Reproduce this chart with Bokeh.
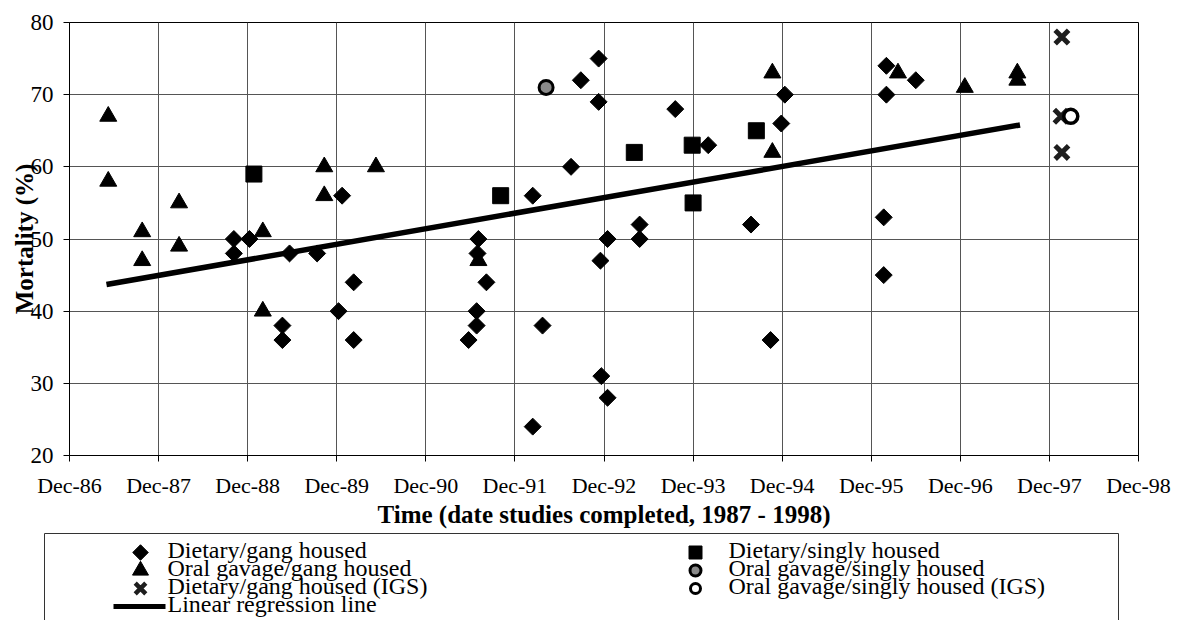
from bokeh.plotting import figure
from bokeh.layouts import column
from bokeh.models import Range1d, FixedTicker
from bokeh.core.properties import value
from bokeh.embed import file_html
from bokeh.resources import INLINE

FONT = "Liberation Serif"

# x values: years after Dec-1986 (date studies completed)
tick_labels = ["Dec-86", "Dec-87", "Dec-88", "Dec-89", "Dec-90", "Dec-91", "Dec-92",
               "Dec-93", "Dec-94", "Dec-95", "Dec-96", "Dec-97", "Dec-98"]
y_ticks = [20, 30, 40, 50, 60, 70, 80]

# Dietary / gang housed (diamonds)
diet_gang_x = [1.845, 1.845, 2.02, 2.39, 2.39, 2.47, 2.78, 3.02, 3.06, 3.19, 3.19,
               4.48, 4.57, 4.57, 4.59, 4.58, 4.68, 5.20, 5.20, 5.31, 5.63, 5.74,
               5.94, 5.94, 5.96, 5.97, 6.04, 6.04, 6.40, 6.40, 6.80, 7.17, 7.65,
               7.87, 7.99, 8.03, 9.14, 9.14, 9.17, 9.17, 9.50]
diet_gang_y = [50, 48, 50, 38, 36, 48, 48, 40, 56, 44, 36,
               36, 40, 38, 50, 48, 44, 56, 24, 38, 60, 72,
               75, 69, 47, 31, 50, 28, 52, 50, 68, 63, 52,
               36, 66, 70, 53, 45, 74, 70, 72]

# Oral gavage / gang housed (triangles)
oral_gang_x = [0.435, 0.435, 0.816, 0.816, 1.23, 1.23, 2.17, 2.17, 2.86, 2.86, 3.44,
               4.59, 7.89, 7.89, 9.30, 10.05, 10.64, 10.64]
oral_gang_y = [67, 58, 51, 47, 55, 49, 51, 40, 60, 56, 60,
               47, 73, 62, 73, 71, 73, 72]

# Dietary / singly housed (squares)
diet_single_x = [2.07, 4.84, 6.34, 6.99, 7.00, 7.71]
diet_single_y = [59, 56, 62, 63, 55, 65]

# Oral gavage / singly housed (grey circles)
oral_single_x = [5.35]
oral_single_y = [71]

# Dietary / gang housed (IGS) (crosses)
diet_gang_igs_x = [11.14, 11.13, 11.14]
diet_gang_igs_y = [78, 67, 62]

# Oral gavage / singly housed (IGS) (open circles)
oral_single_igs_x = [11.24]
oral_single_igs_y = [67]

# Linear regression line end points
reg_x = [0.415, 10.67]
reg_y = [43.7, 65.8]

legend_left = ["Dietary/gang housed", "Oral gavage/gang housed",
               "Dietary/gang housed (IGS)", "Linear regression line"]
legend_right = ["Dietary/singly housed", "Oral gavage/singly housed",
                "Oral gavage/singly housed (IGS)"]

p = figure(width=1184, height=530, x_range=Range1d(0, 12), y_range=Range1d(20, 80),
           output_backend="svg", toolbar_location=None,
           min_border_left=69, min_border_right=46, min_border_top=22, min_border_bottom=71)
p.frame_align = False

p.line(reg_x, reg_y, line_width=5.5, line_color="black")
p.scatter(diet_gang_x, diet_gang_y, marker="square", angle=0.7853982, size=12,
          fill_color="black", line_color="black")
p.scatter(oral_gang_x, oral_gang_y, marker="triangle", size=17,
          fill_color="black", line_color="black")
p.scatter(diet_single_x, diet_single_y, marker="square", size=16,
          fill_color="black", line_color="black")
p.scatter(oral_single_x, oral_single_y, marker="circle", size=14,
          fill_color="#8a8a8a", line_color="black", line_width=3)
p.scatter(diet_gang_igs_x, diet_gang_igs_y, marker="x", size=19,
          line_color="#1e1e1e", line_width=5)
p.scatter(oral_single_igs_x, oral_single_igs_y, marker="circle", size=14,
          fill_color="white", line_color="black", line_width=3.5)

p.xaxis.ticker = FixedTicker(ticks=list(range(len(tick_labels))))
p.xaxis.major_label_overrides = {i: t for i, t in enumerate(tick_labels)}
p.yaxis.ticker = FixedTicker(ticks=y_ticks)
p.xaxis.axis_label = "Time (date studies completed, 1987 - 1998)"
p.yaxis.axis_label = "Mortality (%)"

for ax in (p.xaxis, p.yaxis):
    ax.axis_label_text_font = FONT
    ax.axis_label_text_font_style = "bold"
    ax.axis_label_text_color = "black"
    ax.major_label_text_font = FONT
    ax.major_label_text_font_style = "normal"
    ax.major_label_text_color = "black"
    ax.minor_tick_line_color = None
    ax.major_tick_out = 6
    ax.major_tick_in = 0
    ax.major_tick_line_color = "black"
    ax.axis_line_color = "black"

p.xaxis.axis_label_text_font_size = "25px"
p.yaxis.axis_label_text_font_size = "25px"
p.xaxis.major_label_text_font_size = "22px"
p.yaxis.major_label_text_font_size = "23px"
p.xaxis.major_label_standoff = 11
p.yaxis.major_label_standoff = 10
p.xaxis.axis_label_standoff = 0
p.yaxis.axis_label_standoff = -10

p.grid.grid_line_color = "#555555"
p.grid.grid_line_width = 1
p.outline_line_color = "black"
p.outline_line_alpha = 1

# Legend panel (drawn in page pixel coordinates)
lg = figure(width=1184, height=90, x_range=Range1d(0, 1184), y_range=Range1d(620, 530),
            output_backend="svg", toolbar_location=None, min_border=0,
            x_axis_location=None, y_axis_location=None)
lg.frame_align = False
lg.grid.visible = False
lg.outline_line_color = None

lg.line([44, 44, 1118, 1118], [660, 533, 533, 660], line_color="#333333", line_width=1)

mrow = [552, 570, 588, 606]
trow = [549, 567, 585, 603]
lx, rx = 140, 695

lg.scatter([lx], [mrow[0]], marker="square", angle=0.7853982, size=11,
           fill_color="black", line_color="black")
lg.scatter([lx], [mrow[1]], marker="triangle", size=16, fill_color="black", line_color="black")
lg.scatter([lx], [mrow[2]], marker="x", size=15, line_color="#1e1e1e", line_width=4.5)
lg.line([113, 165], [mrow[3], mrow[3]], line_width=5, line_color="black")

lg.scatter([rx], [mrow[0]], marker="square", size=13, fill_color="black", line_color="black")
lg.scatter([rx], [mrow[1]], marker="circle", size=11, fill_color="#8a8a8a",
           line_color="black", line_width=3)
lg.scatter([rx], [mrow[2]], marker="circle", size=10, fill_color="white",
           line_color="black", line_width=3)

lg.text(x=[167] * len(legend_left), y=trow[:len(legend_left)], text=legend_left,
        text_font=value(FONT), text_font_size="24px", text_baseline="middle",
        text_color="black")
lg.text(x=[728] * len(legend_right), y=trow[:len(legend_right)], text=legend_right,
        text_font=value(FONT), text_font_size="24px", text_baseline="middle",
        text_color="black")

layout = column(p, lg, spacing=0)

open("out.html", "w").write(file_html(layout, INLINE))
